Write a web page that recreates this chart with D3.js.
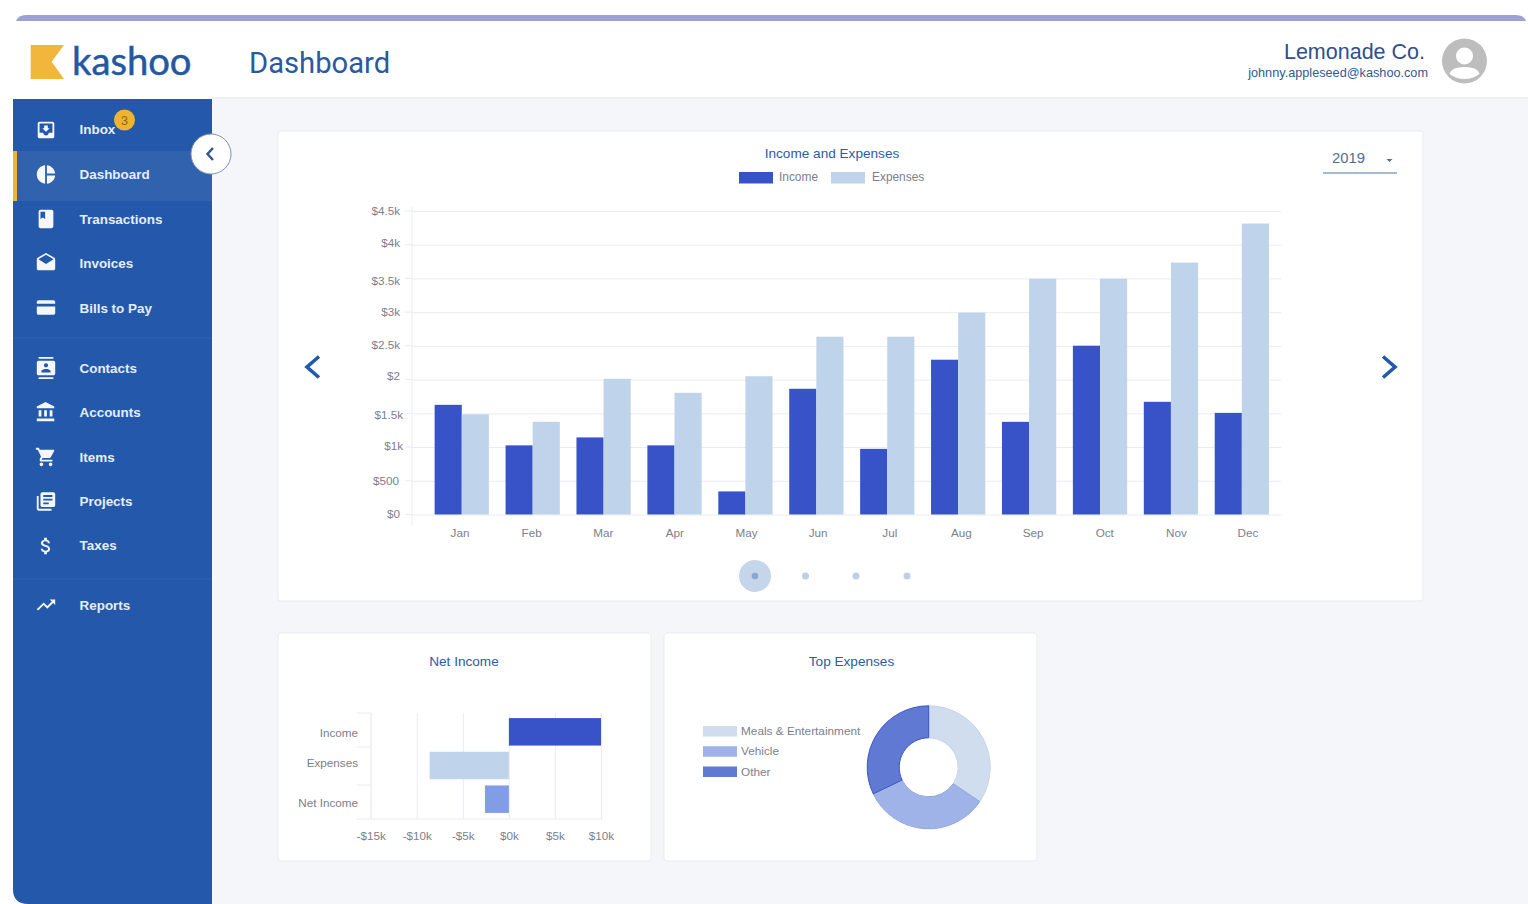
<!DOCTYPE html>
<html><head><meta charset="utf-8">
<script src="https://cdn.jsdelivr.net/npm/d3@7/dist/d3.min.js"></script>
<style>
html,body{margin:0;padding:0;background:#fff;overflow:hidden}
svg{display:block}
text{font-family:"Liberation Sans",Arial,sans-serif}
.axis .domain{display:none}
</style></head><body>
<script>
const months=["Jan","Feb","Mar","Apr","May","Jun","Jul","Aug","Sep","Oct","Nov","Dec"];
const income=[1626,1025,1143,1025,342,1864,973,2295,1374,2503,1671,1507];
const expenses=[1485,1374,2012,1804,2050,2636,2636,2993,3497,3497,3735,4314];
const yTickValues=[0,500,1000,1500,2000,2500,3000,3500,4000,4500];
const yTickLabels=["$0","$500","$1k","$1.5k","$2","$2.5k","$3k","$3.5k","$4k","$4.5k"];
const netCategories=["Income","Expenses","Net Income"];
const netValues=[10000,-8600,-2600];
const netTicks=[-15000,-10000,-5000,0,5000,10000];
const netTickLabels=["-$15k","-$10k","-$5k","$0k","$5k","$10k"];
const expenseCategories=["Meals & Entertainment","Vehicle","Other"];
const expenseShares=[34.4,33.5,32.1];
const navGroups=[["Inbox","Dashboard","Transactions","Invoices","Bills to Pay"],["Contacts","Accounts","Items","Projects","Taxes"],["Reports"]];

// small label nudges, in tick order (layout only)
const yLabelNudgeX=[0,-1,3,3,0,0,0,0,0,0];
const yLabelNudgeY=[-1,0,-1,1,-4,-1,0,2,-2,0];
const netLabelNudgeY=[1,-2,4];

const icons={
Inbox:"M19 3H5c-1.1 0-2 .9-2 2v14c0 1.1.9 2 2 2h14c1.1 0 2-.9 2-2V5c0-1.1-.9-2-2-2zm0 12h-4c0 1.66-1.34 3-3 3s-3-1.34-3-3H5V5h14v10zm-3-5h-2V7h-4v3H8l4 4 4-4z",
Dashboard:"M11 2v20c-5.07-.5-9-4.79-9-10s3.93-9.5 9-10zm2.03 0v8.99H22c-.47-4.74-4.24-8.52-8.97-8.99zm0 11.01V22c4.74-.47 8.5-4.25 8.97-8.99h-8.97z",
Transactions:"M18 2H6c-1.1 0-2 .9-2 2v16c0 1.1.9 2 2 2h12c1.1 0 2-.9 2-2V4c0-1.1-.9-2-2-2zM6 4h5v8l-2.5-1.5L6 12V4z",
Invoices:"M21.99 8c0-.72-.37-1.35-.94-1.7L12 1 2.95 6.3C2.38 6.65 2 7.28 2 8v10c0 1.1.9 2 2 2h16c1.1 0 2-.9 2-2l-.01-10zM12 13L3.74 7.84 12 3l8.26 4.84L12 13z",
"Bills to Pay":"M20 4H4C2.9 4 2 4.9 2 6v2h20V6c0-1.1-.9-2-2-2zM2 11v7c0 1.1.9 2 2 2h16c1.1 0 2-.9 2-2v-7H2z",
Contacts:"M20 0H4v2h16V0zM4 24h16v-2H4v2zM20 4H4c-1.1 0-2 .9-2 2v12c0 1.1.9 2 2 2h16c1.1 0 2-.9 2-2V6c0-1.1-.9-2-2-2zm-8 2.75c1.24 0 2.25 1.01 2.25 2.25s-1.01 2.25-2.25 2.25S9.75 10.24 9.75 9 10.76 6.75 12 6.75zM17 17H7v-1.5c0-1.67 3.33-2.5 5-2.5s5 .83 5 2.5V17z",
Accounts:"M4 10v7h3v-7H4zm6 0v7h3v-7h-3zM2 22h19v-3H2v3zm14-12v7h3v-7h-3zm-4.5-9L2 6v2h19V6l-9.5-5z",
Items:"M7 18c-1.1 0-1.99.9-1.99 2S5.9 22 7 22s2-.9 2-2-.9-2-2-2zM1 2v2h2l3.6 7.59-1.35 2.45c-.16.28-.25.61-.25.96 0 1.1.9 2 2 2h12v-2H7.42c-.14 0-.25-.11-.25-.25l.03-.12.9-1.63h7.45c.75 0 1.41-.41 1.75-1.03l3.58-6.49c.08-.14.12-.31.12-.48 0-.55-.45-1-1-1H5.21l-.94-2H1zm16 16c-1.1 0-1.99.9-1.99 2s.89 2 1.99 2 2-.9 2-2-.9-2-2-2z",
Projects:"M4 6H2v14c0 1.1.9 2 2 2h14v-2H4V6zm16-4H8c-1.1 0-2 .9-2 2v12c0 1.1.9 2 2 2h12c1.1 0 2-.9 2-2V4c0-1.1-.9-2-2-2zm-1 9H9V9h10v2zm-4 4H9v-2h6v2zm4-8H9V5h10v2z",
Taxes:"M11.8 10.9c-2.27-.59-3-1.2-3-2.15 0-1.09 1.01-1.85 2.7-1.85 1.78 0 2.44.85 2.5 2.1h2.21c-.07-1.72-1.12-3.3-3.21-3.81V3h-3v2.16c-1.94.42-3.5 1.68-3.5 3.61 0 2.31 1.91 3.46 4.7 4.13 2.5.6 3 1.48 3 2.41 0 .69-.49 1.79-2.7 1.79-2.06 0-2.87-.92-2.98-2.1h-2.2c.12 2.19 1.76 3.42 3.68 3.83V21h3v-2.15c1.95-.37 3.5-1.5 3.5-3.55 0-2.84-2.43-3.81-4.7-4.4z",
Reports:"M16 6l2.29 2.29-4.88 4.88-4-4L2 16.59 3.41 18l6-6 4 4 6.3-6.29L22 12V6z"};

const BLUE="#2358ab",INK="#2b5ca8",GREY="#7c808b",GRID="#eaecf0",INC="#3853c7",EXP="#bfd3ea",TICK=11.7;
const svg=d3.select("body").append("svg").attr("width",1528).attr("height",904);

// Shell
svg.append("path").attr("d","M16 21 Q18 15 26 15 H1516 Q1524 15 1526 21 Z").attr("fill","#9ca3d4");
svg.append("rect").attr("x",212).attr("y",99).attr("width",1316).attr("height",805).attr("fill","#f5f6fa");
svg.append("line").attr("x1",212).attr("x2",1528).attr("y1",98).attr("y2",98).attr("stroke","#eeeff3").attr("stroke-width",2);
svg.append("path").attr("d","M13 99 H212 V904 H28 Q13 904 13 889 Z").attr("fill",BLUE);

// Header
svg.append("path").attr("d","M30.7 45 H64 L51.7 61.7 L64 79 H30.7 Z").attr("fill","#f2b63c");
svg.append("text").attr("x",72).attr("y",74.5).attr("font-size",38.2).style("font-family","Lato").attr("fill","#2358a0").attr("stroke","#2358a0").attr("stroke-width",0.5).text("kashoo");
svg.append("text").attr("x",249).attr("y",73).attr("font-size",29.2).style("font-family","Roboto").attr("fill","#2a5a9e").text("Dashboard");
svg.append("text").attr("x",1425).attr("y",59).attr("text-anchor","end").attr("font-size",21.5).attr("fill","#2f4f8f").text("Lemonade Co.");
svg.append("text").attr("x",1428).attr("y",77).attr("text-anchor","end").attr("font-size",12.7).attr("fill","#2f5a98").text("johnny.appleseed@kashoo.com");
svg.append("circle").attr("cx",1464.5).attr("cy",61).attr("r",22.5).attr("fill","#bdbdbd");
svg.append("circle").attr("cx",1464.5).attr("cy",56).attr("r",8.5).attr("fill","#fff");
svg.append("path").attr("d","M1449.5 74 Q1451 67 1464.5 67 Q1478 67 1479.5 74 Q1473 79 1464.5 79 Q1456 79 1449.5 74 Z").attr("fill","#fff");

// Sidebar
svg.append("rect").attr("x",13).attr("y",151).attr("width",199).attr("height",50).attr("fill","#3162ae");
svg.append("rect").attr("x",13).attr("y",151).attr("width",4).attr("height",50).attr("fill","#f0b23a");
[338,579].forEach(y=>svg.append("line").attr("x1",13).attr("x2",212).attr("y1",y).attr("y2",y).attr("stroke","#2e60b0"));
const navY={Inbox:130,Dashboard:175,Transactions:220,Invoices:264,"Bills to Pay":309,Contacts:369,Accounts:413,Items:458,Projects:502,Taxes:546,Reports:606};
const iconY={Inbox:130,Dashboard:174.5,Transactions:219,Invoices:263,"Bills to Pay":307.5,Contacts:368,Accounts:412,Items:457,Projects:501.5,Taxes:546,Reports:605};
navGroups.flat().forEach(name=>{
  svg.append("path").attr("d",icons[name]).attr("fill","#f4f7fc")
    .attr("transform",`translate(${46-12*0.92},${iconY[name]-12*0.92}) scale(0.92)`);
  svg.append("text").attr("x",79.5).attr("y",navY[name]+4).attr("font-size",13.45).attr("font-weight",700).attr("fill","#e6edf7").text(name);
});
svg.append("circle").attr("cx",124.5).attr("cy",120).attr("r",10.5).attr("fill","#eeb32f");
svg.append("text").attr("x",124.5).attr("y",124.5).attr("text-anchor","middle").attr("font-size",12.5).attr("fill","#8a6a1e").text("3");
svg.append("circle").attr("cx",211).attr("cy",154).attr("r",20).attr("fill","#fff").attr("stroke","#8094b4");
svg.append("path").attr("d","M213 148 L207.5 154 L213 160").attr("fill","none").attr("stroke","#33538a").attr("stroke-width",2.4);

// Cards
[[278,131,1145,470],[278,633,373,228],[664,633,373,228]].forEach(([x,y,w,h])=>
  svg.append("rect").attr("x",x).attr("y",y).attr("width",w).attr("height",h).attr("rx",3)
    .attr("fill","#fff").attr("stroke","#e9ebf0"));

// Income & Expenses
const main=svg.append("g");
main.append("text").attr("x",832).attr("y",158).attr("text-anchor","middle").attr("font-size",13.6).attr("fill",INK).text("Income and Expenses");
[[739,779,INC,"Income"],[831,872,EXP,"Expenses"]].forEach(([sx,tx,c,t])=>{
  main.append("rect").attr("x",sx).attr("y",172).attr("width",34).attr("height",11.5).attr("fill",c);
  main.append("text").attr("x",tx).attr("y",181).attr("font-size",11.9).attr("fill",GREY).text(t);
});
main.append("text").attr("x",1332).attr("y",163).attr("font-size",14.8).attr("fill","#4c6e94").text("2019");
main.append("path").attr("d","M1386.5 159 h6 l-3 3 z").attr("fill","#4c6e94");
main.append("line").attr("x1",1323).attr("x2",1397).attr("y1",173).attr("y2",173).attr("stroke","#4a78a8").attr("stroke-width",1.2);

const y=d3.scaleLinear().domain([0,4500]).range([514.5,211]);
const x0=d3.scaleBand().domain(months).range([426.3,1277.3]).paddingInner(0.235).paddingOuter(0.1175);
const x1=d3.scaleBand().domain(["income","expenses"]).range([0,x0.bandwidth()]);
const xLabel=d3.scalePoint().domain(months).range([459.5,1247.5]);

const yAxis=main.append("g").attr("class","axis").attr("transform","translate(412,0)")
  .call(d3.axisLeft(y).tickValues(yTickValues).tickFormat((d,i)=>yTickLabels[i]).tickSize(-869).tickPadding(12));
yAxis.selectAll("line").attr("stroke",GRID);
yAxis.selectAll("text").attr("font-size",TICK).attr("fill",GREY)
  .attr("dx",(d,i)=>yLabelNudgeX[i]).attr("transform",(d,i)=>`translate(0,${yLabelNudgeY[i]})`);
main.append("g").selectAll("line").data(yTickValues).join("line")
  .attr("x1",405).attr("x2",412).attr("y1",d=>y(d)).attr("y2",d=>y(d)).attr("stroke",GRID);
main.append("line").attr("x1",412).attr("x2",412).attr("y1",207).attr("y2",526).attr("stroke",GRID);

const groups=main.append("g").selectAll("g").data(months).join("g").attr("transform",d=>`translate(${x0(d)},0)`);
groups.append("rect").attr("x",x1("income")).attr("width",x1.bandwidth())
  .attr("y",(d,i)=>y(income[i])).attr("height",(d,i)=>y(0)-y(income[i])).attr("fill",INC);
groups.append("rect").attr("x",x1("expenses")).attr("width",x1.bandwidth())
  .attr("y",(d,i)=>y(expenses[i])).attr("height",(d,i)=>y(0)-y(expenses[i])).attr("fill",EXP);

const xAxis=main.append("g").attr("class","axis").attr("transform","translate(0,526)")
  .call(d3.axisBottom(xLabel).tickSize(0).tickPadding(3));
xAxis.selectAll("text").attr("font-size",TICK).attr("fill",GREY);

[[313,1],[1389,-1]].forEach(([cx,s])=>main.append("path")
  .attr("d",`M${cx+6*s} 356.5 L${cx-6*s} 367 L${cx+6*s} 377.5`).attr("fill","none").attr("stroke",BLUE).attr("stroke-width",3.6));
main.append("circle").attr("cx",755).attr("cy",576).attr("r",16).attr("fill","#c5d5ea");
main.append("circle").attr("cx",755).attr("cy",576).attr("r",3.3).attr("fill","#89a7d0");
[805.5,856,907].forEach(c=>main.append("circle").attr("cx",c).attr("cy",576).attr("r",3.5).attr("fill","#bfcfe5"));

// Net Income
const net=svg.append("g");
net.append("text").attr("x",464).attr("y",666).attr("text-anchor","middle").attr("font-size",13.6).attr("fill",INK).text("Net Income");
const nx=d3.scaleLinear().domain([-15000,10000]).range([370.7,601]);
const ny=d3.scaleBand().domain(netCategories).range([715,816]).padding(0.184).paddingOuter(0.092);
const nxAxis=net.append("g").attr("class","axis").attr("transform","translate(0,819)")
  .call(d3.axisBottom(nx).tickValues(netTicks).tickFormat((d,i)=>netTickLabels[i]).tickSize(-106).tickPadding(13));
nxAxis.selectAll("line").attr("stroke",GRID);
nxAxis.selectAll("text").attr("font-size",TICK).attr("fill",GREY);
net.append("line").attr("x1",356).attr("x2",601).attr("y1",819).attr("y2",819).attr("stroke",GRID);
net.append("line").attr("x1",371).attr("x2",371).attr("y1",713).attr("y2",819).attr("stroke",GRID);
const nyAxis=net.append("g").attr("class","axis").attr("transform","translate(371,0)")
  .call(d3.axisLeft(ny).tickSize(0).tickPadding(13));
nyAxis.selectAll("text").attr("font-size",TICK).attr("fill",GREY).attr("transform",(d,i)=>`translate(0,${netLabelNudgeY[i]})`);
net.append("g").selectAll("rect").data(netCategories).join("rect")
  .attr("x",(d,i)=>Math.min(nx(0),nx(netValues[i]))).attr("y",d=>ny(d))
  .attr("width",(d,i)=>Math.abs(nx(netValues[i])-nx(0))).attr("height",ny.bandwidth())
  .attr("fill",(d,i)=>[INC,EXP,"#839ce6"][i]);
[713,747,785].forEach(t=>net.append("line").attr("x1",357).attr("x2",371).attr("y1",t).attr("y2",t).attr("stroke",GRID));

// Top Expenses
const top_=svg.append("g");
top_.append("text").attr("x",851.5).attr("y",666).attr("text-anchor","middle").attr("font-size",13.6).attr("fill",INK).text("Top Expenses");
const fills=d3.scaleOrdinal().domain(expenseCategories).range(["#d0ddef","#9fb3e8","#6079d2"]);
const strokes=d3.scaleOrdinal().domain(expenseCategories).range(["#c6d4e8","#90a5de","#3a55c4"]);
const legY=d3.scalePoint().domain(expenseCategories).range([731,771.5]);
expenseCategories.forEach(c=>{
  top_.append("rect").attr("x",703).attr("y",legY(c)-5).attr("width",34).attr("height",10.5).attr("fill",fills(c));
  top_.append("text").attr("x",741).attr("y",legY(c)+4).attr("font-size",TICK+0.1).attr("fill",GREY).text(c);
});
const pie=d3.pie().sort(null).value((d,i)=>expenseShares[i]);
const arc=d3.arc().innerRadius(29.5).outerRadius(61.5);
top_.append("g").attr("transform","translate(928.7,767.3)").selectAll("path")
  .data(pie(expenseCategories)).join("path").attr("d",arc)
  .attr("fill",d=>fills(d.data)).attr("stroke",d=>strokes(d.data)).attr("stroke-width",1);
</script>
</body></html>
